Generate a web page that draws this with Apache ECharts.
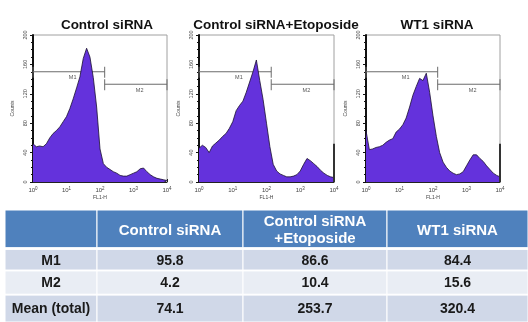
<!DOCTYPE html>
<html>
<head>
<meta charset="utf-8">
<script src="https://cdn.jsdelivr.net/npm/echarts@6/dist/echarts.min.js"></script>
<style>
  html, body { margin: 0; padding: 0; background: #fff; }
  #chart { width: 528px; height: 322px; }
</style>
</head>
<body>
<div id="chart"></div>
<script>
// ---------------- DATA ----------------
const categories = ['Control siRNA', 'Control siRNA+Etoposide', 'WT1 siRNA'];

// FL1-H channel positions (log scale, 10^0 .. 10^4)
const fl1h = [1, 1.26, 1.58, 2, 2.51, 3.16, 3.98, 5.01, 6.31, 7.94,
  10, 12.6, 15.8, 20, 25.1, 31.6, 39.8, 50.1, 63.1, 79.4,
  100, 126, 158, 200, 251, 316, 398, 501, 631, 794,
  1000, 1259, 1585, 1995, 2512, 3162, 3981, 5012, 6310, 7943, 10000];

const countsControl = [52, 48, 49, 48, 52, 60, 66, 70, 75, 82,
  89, 100, 113, 128, 143, 168, 182, 170, 142, 102,
  45, 25, 20, 17, 14, 12, 9, 8, 8, 10,
  12, 14, 18, 19, 14, 10, 7, 5, 4, 3, 2];

const countsEtoposide = [46, 50, 47, 40, 49, 53, 57, 62, 66, 73,
  82, 97, 104, 110, 122, 136, 150, 166, 138, 112,
  80, 48, 24, 15, 11, 9, 7, 7, 8, 10,
  15, 24, 32, 29, 25, 21, 16, 12, 9, 7, 6];

const countsWT1 = [70, 44, 45, 47, 48, 50, 54, 57, 59, 68,
  72, 78, 87, 102, 118, 130, 141, 138, 148, 122,
  90, 62, 40, 27, 20, 15, 12, 10, 11, 14,
  22, 30, 37, 37, 32, 28, 22, 17, 12, 9, 7];

// events piled up in the last channel (10^4)
const lastChannelCounts = [0, 52, 52];

// gate markers
const gateNames = ['M1', 'M2'];
const gateLow = [1, 138];
const gateHigh = [138, 10000];
const gateLevel = [150, 133];

// y-axis ticks
const yTickMin = 0, yTickMax = 200, yTickStep = 40;

// table
const tableHeaders = ['', 'Control siRNA', 'Control siRNA\n+Etoposide', 'WT1 siRNA'];
const rowLabels = ['M1', 'M2', 'Mean (total)'];
const m1Values = [95.8, 86.6, 84.4];
const m2Values = [4.2, 10.4, 15.6];
const meanValues = [74.1, 253.7, 320.4];

// ---------------- LAYOUT (styles, not data) ----------------
const plotGrids = [
  { left: 33, top: 35, width: 134, height: 147 },
  { left: 199, top: 35, width: 135, height: 147 },
  { left: 366, top: 35, width: 134, height: 147 }
];
const titleCenters = [102, 271, 432];
const purple = '#6432dc';

const colEdges = [0, 92, 238, 382, 523];
const rowEdges = [0, 42, 44, 67, 68, 94, 95, 125]; // pairs: [top,bottom] per row
const rowFills = ['#4f81bd', '#d0d8e8', '#e9edf4', '#d0d8e8'];

const countSeries = [countsControl, countsEtoposide, countsWT1];

const chart = echarts.init(document.getElementById('chart'), null, { renderer: 'canvas' });

const grids = [], xAxes = [], yAxes = [], series = [], titles = [];

plotGrids.forEach((g, i) => {
  grids.push(Object.assign({ show: true, borderColor: '#a0a0a0', borderWidth: 1, backgroundColor: 'transparent' }, g));
  titles.push({
    text: categories[i], left: titleCenters[i], top: 13, textAlign: 'center',
    textStyle: { fontFamily: 'Liberation Sans, Arial', fontWeight: 'bold', fontSize: 13.5, color: '#111' }
  });
  xAxes.push({
    type: 'log', logBase: 10, min: 1, max: 10000, gridIndex: i,
    name: 'FL1-H', nameLocation: 'middle', nameGap: 13,
    nameTextStyle: { fontSize: 5, color: '#444', fontFamily: 'Liberation Sans, Arial' },
    axisLine: { lineStyle: { color: '#222', width: 1 } },
    axisTick: { show: true, inside: true, length: 3, lineStyle: { color: '#222' } },
    minorTick: { show: true, splitNumber: 9, length: 2, lineStyle: { color: '#333' } },
    splitLine: { show: false },
    axisLabel: {
      margin: 4, color: '#444',
      formatter: v => '{b|10}{s|' + Math.round(Math.log10(v)) + '}',
      rich: {
        b: { fontSize: 6, fontFamily: 'Liberation Sans, Arial', color: '#444' },
        s: { fontSize: 4.5, fontFamily: 'Liberation Sans, Arial', color: '#444', padding: [0, 0, 4, 0] }
      }
    }
  });
  yAxes.push({
    type: 'value', min: yTickMin, max: yTickMax, interval: yTickStep, gridIndex: i,
    name: 'Counts', nameLocation: 'middle', nameGap: 18, nameRotate: 90,
    nameTextStyle: { fontSize: 5, color: '#444', fontFamily: 'Liberation Sans, Arial' },
    axisLine: { show: true, lineStyle: { color: '#111', width: 2 } },
    axisTick: { show: true, length: 3, lineStyle: { color: '#111' } },
    minorTick: { show: true, splitNumber: 4, length: 2, lineStyle: { color: '#111' } },
    splitLine: { show: false },
    axisLabel: { rotate: 90, fontSize: 5.5, color: '#444', margin: 5, fontFamily: 'Liberation Sans, Arial' }
  });

  series.push({
    type: 'line', xAxisIndex: i, yAxisIndex: i,
    data: fl1h.map((x, k) => [x, countSeries[i][k]]),
    symbol: 'none', smooth: false,
    lineStyle: { color: '#1a1030', width: 0.8 },
    areaStyle: { color: purple, opacity: 1 },
    silent: true, animation: false
  });

  if (lastChannelCounts[i] > 0) {
    series.push({
      type: 'line', xAxisIndex: i, yAxisIndex: i, clip: false,
      data: [[fl1h[fl1h.length - 1], 0], [fl1h[fl1h.length - 1], lastChannelCounts[i]]],
      symbol: 'none', lineStyle: { color: '#333', width: 2 }, animation: false
    });
  }

  series.push({
    type: 'custom', xAxisIndex: i, yAxisIndex: i, clip: false, animation: false,
    encode: { x: [0, 1], y: 2 },
    data: gateNames.map((n, k) => [gateLow[k], gateHigh[k], gateLevel[k], k]),
    renderItem: (params, api) => {
      const p0 = api.coord([api.value(0), api.value(2)]);
      const p1 = api.coord([api.value(1), api.value(2)]);
      const k = api.value(3);
      const st = { stroke: '#6b6b6b', lineWidth: 1 };
      return {
        type: 'group',
        children: [
          { type: 'line', shape: { x1: p0[0], y1: p0[1], x2: p1[0], y2: p1[1] }, style: st },
          { type: 'line', shape: { x1: p0[0], y1: p0[1] - 5, x2: p0[0], y2: p0[1] + 6 }, style: st },
          { type: 'line', shape: { x1: p1[0], y1: p1[1] - 5, x2: p1[0], y2: p1[1] + 6 }, style: st },
          { type: 'text', style: {
              text: gateNames[k], x: (p0[0] + p1[0]) / 2, y: p0[1] + 3,
              fill: '#555', fontSize: 5.5, fontFamily: 'Liberation Sans, Arial',
              textAlign: 'left', textVerticalAlign: 'top' } }
        ]
      };
    }
  });
});

// ---------------- TABLE ----------------
const tIdx = 3;
grids.push({ left: 5, top: 210, width: 523, height: 125, show: false });
xAxes.push({ type: 'value', gridIndex: tIdx, min: 0, max: 523, show: false });
yAxes.push({ type: 'value', gridIndex: tIdx, min: 0, max: 125, inverse: true, show: false });

const bodyRows = [m1Values, m2Values, meanValues];
const cellData = [];
for (let r = 0; r < 4; r++) {
  for (let c = 0; c < 4; c++) cellData.push([c, r]);
}
function cellText(c, r) {
  if (r === 0) return tableHeaders[c];
  if (c === 0) return rowLabels[r - 1];
  return bodyRows[r - 1][c - 1].toFixed(1);
}
series.push({
  type: 'custom', xAxisIndex: tIdx, yAxisIndex: tIdx, clip: false, animation: false,
  data: cellData,
  renderItem: (params, api) => {
    const c = api.value(0), r = api.value(1);
    const tl = api.coord([colEdges[c], rowEdges[r * 2]]);
    const br = api.coord([colEdges[c + 1], rowEdges[r * 2 + 1]]);
    const header = r === 0;
    return {
      type: 'group',
      children: [
        { type: 'rect', shape: { x: tl[0], y: tl[1], width: br[0] - tl[0], height: br[1] - tl[1] },
          style: { fill: rowFills[r], stroke: '#ffffff', lineWidth: 1 } },
        { type: 'text', style: {
            text: cellText(c, r), x: (tl[0] + br[0]) / 2, y: (tl[1] + br[1]) / 2 + (header ? 2 : 1),
            textAlign: 'center', textVerticalAlign: 'middle',
            fill: header ? '#ffffff' : '#1a1a1a', fontWeight: 'bold',
            fontSize: header ? 15 : 14, lineHeight: 17,
            fontFamily: 'Liberation Sans, Arial' } }
      ]
    };
  }
});

chart.setOption({
  animation: false,
  title: titles,
  grid: grids,
  xAxis: xAxes,
  yAxis: yAxes,
  series: series
});
</script>
</body>
</html>
